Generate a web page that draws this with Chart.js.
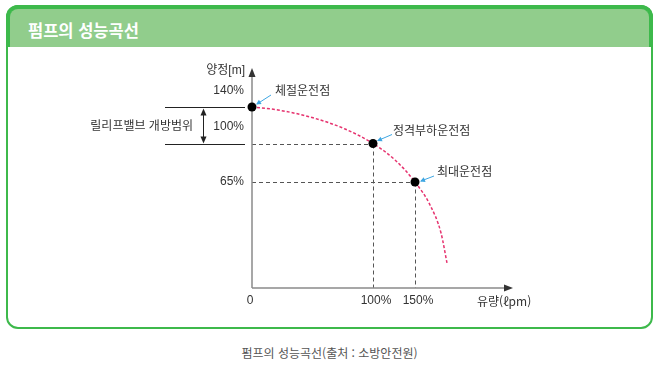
<!DOCTYPE html>
<html lang="ko">
<head>
<meta charset="utf-8">
<script src="https://cdn.jsdelivr.net/npm/chart.js@4/dist/chart.umd.min.js"></script>
<style>
  html, body { margin:0; padding:0; background:#fff; width:659px; height:365px; overflow:hidden; }
  #frame { position:absolute; left:6px; top:5px; width:643px; height:320px; border:2px solid #3db94b; border-radius:12px; }
  #head { position:absolute; left:-2px; top:-2px; right:-2px; height:38px; background:#91cd8c;
          border:4px solid #3db94b; border-bottom:none; border-radius:12px 12px 0 0; }
  #title { position:absolute; left:18px; top:9px; line-height:22px; color:#fff; font:bold 16.5px "Noto Sans CJK KR", sans-serif; }
  #cap { position:absolute; left:0; width:659px; top:344px; text-align:center; color:#555; font:12px "Noto Sans CJK KR", sans-serif; }
  canvas { position:absolute; left:0; top:0; }
</style>
</head>
<body>
<div id="frame"><div id="head"><div id="title">펌프의 성능곡선</div></div></div>
<div id="cap">펌프의 성능곡선(출처 : 소방안전원)</div>
<canvas id="c" width="659" height="365"></canvas>
<script>
// ---- data ----
const curveFlow = [0, 21.5, 49.6, 76.9, 100, 126.2, 150, 167.9, 181, 188.1];   // 유량 (%)
const curveHead = [140, 136.7, 128.5, 115.9, 100, 85, 65, 50.9, 33.7, 15.3];    // 양정 (%)
const keyFlow = [0, 100, 150];
const keyHead = [140, 100, 65];
const keyNames = ['체절운전점', '정격부하운전점', '최대운전점'];
const xTickValues = [0, 100, 150];
const xTickLabels = ['0', '100%', '150%'];
const yTickValues = [140, 100, 65];
const yTickLabels = ['140%', '100%', '65%'];
const xTitle = '유량(ℓpm)';
const yTitle = '양정[m]';
const reliefLabel = '릴리프밸브 개방범위';

// schematic (non-uniform) axis calibration: [value, axis units]
const AXIS_WARP = {
  x: [[0, 0], [100, 121], [150, 163]],
  y: [[0, 0], [65, 106], [100, 144.5], [140, 181]]
};

function warpVal(a, v) {
  let i = 0;
  while (i < a.length - 2 && v > a[i + 1][0]) i++;
  const [v0, u0] = a[i], [v1, u1] = a[i + 1];
  return u0 + (v - v0) * (u1 - u0) / (v1 - v0);
}
function unwarpVal(a, u) {
  let i = 0;
  while (i < a.length - 2 && u > a[i + 1][1]) i++;
  const [v0, u0] = a[i], [v1, u1] = a[i + 1];
  return v0 + (u - u0) * (v1 - v0) / (u1 - u0);
}

class WarpScale extends Chart.LinearScale {
  getPixelForValue(value) {
    if (value === null || value === undefined) return NaN;
    return super.getPixelForValue(warpVal(AXIS_WARP[this.id], value));
  }
  getValueForPixel(pixel) {
    return unwarpVal(AXIS_WARP[this.id], super.getValueForPixel(pixel));
  }
}
WarpScale.id = 'warp';
WarpScale.defaults = Chart.LinearScale.defaults;
Chart.register(WarpScale);

const FONT = '"Liberation Sans", "Noto Sans CJK KR", sans-serif';

function arrowHead(ctx, x0, y0, x1, y1, len, half, color) {
  const ang = Math.atan2(y1 - y0, x1 - x0);
  ctx.save();
  ctx.fillStyle = color;
  ctx.translate(x1, y1);
  ctx.rotate(ang);
  ctx.beginPath();
  ctx.moveTo(0, 0);
  ctx.lineTo(-len, -half);
  ctx.lineTo(-len, half);
  ctx.closePath();
  ctx.fill();
  ctx.restore();
}

const decor = {
  id: 'decor',
  beforeDatasetsDraw(chart) {
    const ctx = chart.ctx, X = chart.scales.x, Y = chart.scales.y, A = chart.chartArea;
    const px = v => X.getPixelForValue(v), py = v => Y.getPixelForValue(v);
    const x0 = px(0), y0 = py(0);
    ctx.save();
    // guide lines
    ctx.strokeStyle = '#555';
    ctx.lineWidth = 1;
    ctx.setLineDash([4, 3]);
    for (let i = 1; i < keyFlow.length; i++) {
      const xp = Math.round(px(keyFlow[i])) + 0.5, yp = Math.round(py(keyHead[i])) + 0.5;
      ctx.beginPath();
      ctx.moveTo(x0, yp); ctx.lineTo(xp, yp);
      ctx.moveTo(xp, yp); ctx.lineTo(xp, y0);
      ctx.stroke();
    }
    ctx.setLineDash([]);
    // axes
    ctx.strokeStyle = '#8a8a8a';
    ctx.lineWidth = 1.5;
    ctx.beginPath();
    ctx.moveTo(x0, y0); ctx.lineTo(x0, A.top + 4);
    ctx.moveTo(x0, y0); ctx.lineTo(A.right - 4, y0);
    ctx.stroke();
    arrowHead(ctx, x0, y0, x0, A.top, 9, 3.5, '#333');
    arrowHead(ctx, x0, y0, A.right, y0, 9, 3.5, '#333');
    ctx.restore();
  },
  afterDatasetsDraw(chart) {
    const ctx = chart.ctx, X = chart.scales.x, Y = chart.scales.y, A = chart.chartArea;
    const px = v => X.getPixelForValue(v), py = v => Y.getPixelForValue(v);
    const x0 = px(0), y0 = py(0);
    ctx.save();
    ctx.fillStyle = '#333';
    ctx.font = '12px ' + FONT;
    // x tick labels
    ctx.textAlign = 'center';
    ctx.textBaseline = 'middle';
    xTickValues.forEach((v, i) => ctx.fillText(xTickLabels[i], px(v) + (i ? 3 : -2), y0 + 13));
    ctx.textAlign = 'left';
    ctx.font = '12px "Noto Sans CJK KR", sans-serif';
    ctx.fillText(xTitle, 477, y0 + 13);
    ctx.font = '12px ' + FONT;
    // y tick labels
    const yOff = [-16, -16.5, 0];
    ctx.textAlign = 'right';
    yTickValues.forEach((v, i) => ctx.fillText(yTickLabels[i], x0 - 8, py(v) + yOff[i]));
    ctx.fillText(yTitle, x0 - 7, A.top + 3);
    // relief valve bracket
    const yA = Math.round(py(140)) + 0.5, yB = Math.round(py(100)) + 0.5;
    ctx.strokeStyle = '#222';
    ctx.lineWidth = 1;
    ctx.beginPath();
    ctx.moveTo(165, yA); ctx.lineTo(x0 - 7, yA);
    ctx.moveTo(165, yB); ctx.lineTo(x0 - 7, yB);
    ctx.moveTo(203.5, yA + 6); ctx.lineTo(203.5, yB - 6);
    ctx.stroke();
    arrowHead(ctx, 203.5, yB, 203.5, yA + 1, 7, 3, '#222');
    arrowHead(ctx, 203.5, yA, 203.5, yB - 1, 7, 3, '#222');
    ctx.fillText(reliefLabel, 193, (yA + yB) / 2 + 1);
    // annotations
    const ann = [
      { tx: 23, ty: -15, ax0: 19, ay0: -12, ax1: 5, ay1: -3 },
      { tx: 20, ty: -12, ax0: 19, ay0: -9, ax1: 5, ay1: -3 },
      { tx: 22, ty: -9, ax0: 19, ay0: -6, ax1: 6, ay1: -1 }
    ];
    ctx.textAlign = 'left';
    keyNames.forEach((name, i) => {
      const xp = px(keyFlow[i]), yp = py(keyHead[i]), a = ann[i];
      ctx.fillStyle = '#333';
      ctx.fillText(name, xp + a.tx, yp + a.ty);
      ctx.strokeStyle = '#3ea6e2';
      ctx.lineWidth = 1;
      ctx.beginPath();
      ctx.moveTo(xp + a.ax0, yp + a.ay0);
      ctx.lineTo(xp + a.ax1, yp + a.ay1);
      ctx.stroke();
      arrowHead(ctx, xp + a.ax0, yp + a.ay0, xp + a.ax1 - 1, yp + a.ay1 + 0.5, 5, 2.5, '#3ea6e2');
    });
    ctx.restore();
  }
};

new Chart(document.getElementById('c'), {
  type: 'line',
  data: {
    datasets: [
      {
        label: '운전점',
        data: keyFlow.map((x, i) => ({ x, y: keyHead[i] })),
        showLine: false,
        pointRadius: 4.5,
        pointBackgroundColor: '#000',
        pointBorderWidth: 0,
        clip: false
      },
      {
        label: '성능곡선',
        data: curveFlow.map((x, i) => ({ x, y: curveHead[i] })),
        borderColor: '#e6336f',
        borderWidth: 1.5,
        borderDash: [3, 2],
        pointRadius: 0,
        cubicInterpolationMode: 'monotone',
        fill: false,
        clip: false
      }
    ]
  },
  options: {
    responsive: false,
    animation: false,
    layout: { padding: { left: 252, top: 68, right: 146, bottom: 77 } },
    plugins: { legend: { display: false }, tooltip: { enabled: false }, title: { display: false } },
    scales: {
      x: { type: 'warp', min: 0, max: 261, display: false },
      y: { type: 'warp', min: 0, max: 220, display: false }
    }
  },
  plugins: [decor]
});
</script>
</body>
</html>
